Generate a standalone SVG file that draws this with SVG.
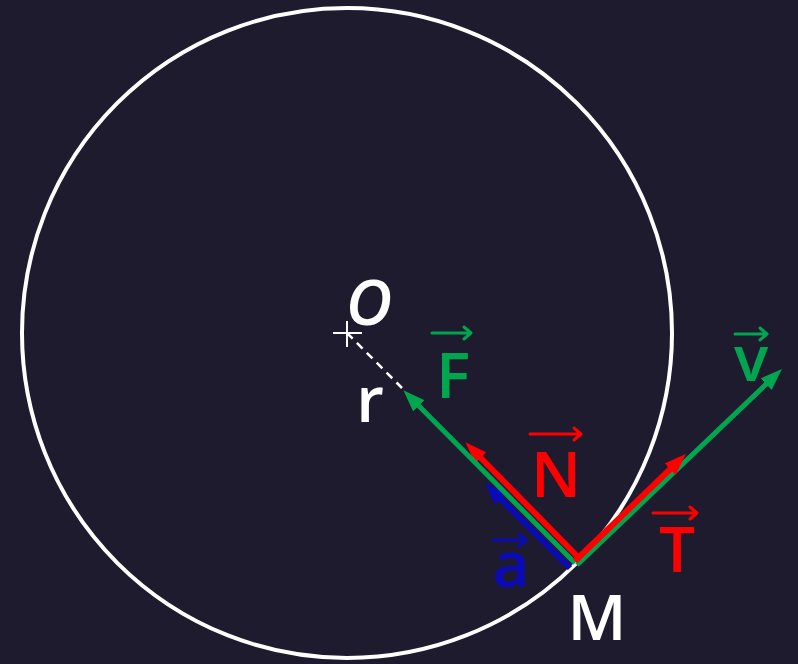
<svg xmlns="http://www.w3.org/2000/svg" width="798" height="664" viewBox="0 0 798 664">
<defs>
<style>
.lbl{font-family:"Open Sans","DejaVu Sans",sans-serif;text-anchor:middle;font-size:64px;font-weight:600}
.w{fill:#ffffff}.g{fill:#00a550}.r{fill:#ff0000}.b{fill:#0a0ab8}
.ov{fill:none;stroke-width:3;stroke-linecap:round;stroke-linejoin:round}
</style>
<marker id="hg" markerUnits="userSpaceOnUse" markerWidth="24" markerHeight="20" refX="14" refY="10" orient="auto"><path d="M0,2 L22,10 L0,18 z" fill="#00a550"/></marker>
<marker id="hr" markerUnits="userSpaceOnUse" markerWidth="24" markerHeight="20" refX="14" refY="10" orient="auto"><path d="M0,2 L22,10 L0,18 z" fill="#ff0000"/></marker>
<marker id="hb" markerUnits="userSpaceOnUse" markerWidth="24" markerHeight="20" refX="14" refY="10" orient="auto"><path d="M0,2 L22,10 L0,18 z" fill="#0a0ab8"/></marker>
</defs>
<rect width="798" height="664" fill="#1e1b2e"/>
<g id="circle"><circle cx="347" cy="333" r="325" fill="none" stroke="#ffffff" stroke-width="4"/></g>
<g id="center">
<line x1="333" y1="333" x2="362" y2="333" stroke="#ffffff" stroke-width="2"/>
<line x1="347" y1="321" x2="347" y2="347" stroke="#ffffff" stroke-width="2"/>
</g>
<g id="connectors">
<line id="radius" x1="347" y1="333" x2="402" y2="388" stroke="#ffffff" stroke-width="2.5" stroke-dasharray="8,6"/>
<line id="vec-a" x1="570" y1="568" x2="490.6" y2="488.7" stroke="#0a0ab8" stroke-width="6" marker-end="url(#hb)"/>
<line id="vec-N" x1="579" y1="558" x2="471" y2="448" stroke="#ff0000" stroke-width="6" marker-end="url(#hr)"/>
<line id="vec-F" x1="575" y1="563" x2="409" y2="396" stroke="#00a550" stroke-width="5" marker-end="url(#hg)"/>
<line id="vec-v" x1="577" y1="565" x2="776.2" y2="374.5" stroke="#00a550" stroke-width="5" marker-end="url(#hg)"/>
<line id="vec-T" x1="575" y1="561" x2="680.2" y2="459.5" stroke="#ff0000" stroke-width="6" marker-end="url(#hr)"/>
</g>
<g id="label-O"><text class="lbl w" x="369" y="325" font-style="italic">O</text></g>
<g id="label-r"><text class="lbl w" x="370" y="422">r</text></g>
<g id="label-M"><text class="lbl w" x="597" y="640">M</text></g>
<g id="label-F"><path class="ov" stroke="#00a550" d="M432,333 H471 M464,327 L471,333 L464,339"/><text class="lbl g" x="453" y="398">F</text></g>
<g id="label-N"><path class="ov" stroke="#ff0000" d="M530,434 H581 M574,428 L581,434 L574,440"/><text class="lbl r" x="556" y="497">N</text></g>
<g id="label-a"><path class="ov" stroke="#0a0ab8" d="M493,540 H526 M519,534 L526,540 L519,546"/><text class="lbl b" x="511" y="587">a</text></g>
<g id="label-T"><path class="ov" stroke="#ff0000" d="M653,513 H697 M690,507 L697,513 L690,519"/><text class="lbl r" x="677" y="572">T</text></g>
<g id="label-v"><path class="ov" stroke="#00a550" d="M735,334 H767 M760,328 L767,334 L760,340"/><text class="lbl g" x="751" y="381">v</text></g>
</svg>
